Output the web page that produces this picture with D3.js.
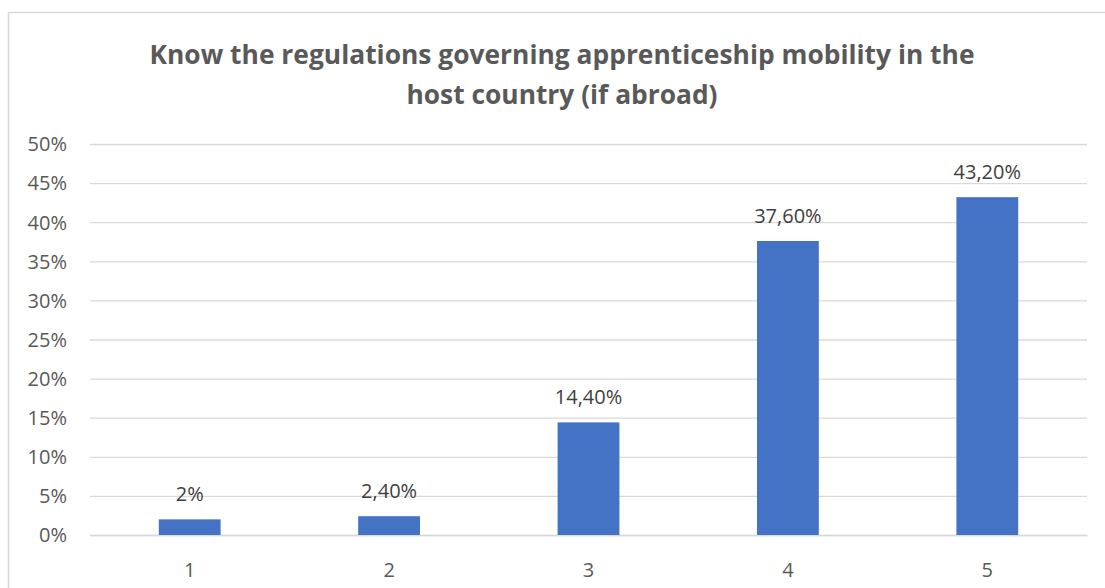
<!DOCTYPE html>
<html>
<head>
<meta charset="utf-8">
<script src="https://cdn.jsdelivr.net/npm/d3@7/dist/d3.min.js"></script>
<style>
  html, body { margin: 0; padding: 0; background: #fff; }
  svg { display: block; }
</style>
</head>
<body>
<svg id="chart" width="1105" height="588"></svg>
<script>
// Survey answers on a 1–5 scale, share of respondents (%)
const categories = ["1", "2", "3", "4", "5"];
const values = [2, 2.4, 14.4, 37.6, 43.2];
const yTicks = [0, 5, 10, 15, 20, 25, 30, 35, 40, 45, 50];
const titleLines = [
  "Know the regulations governing apprenticeship mobility in the",
  "host country (if abroad)"
];

const svg = d3.select("#chart");
const W = 1105, H = 588;
const plot = { left: 90, right: 1087, top: 144, bottom: 535 };
const textColor = "#595959";
const gridColor = "#d9d9d9";
const font = "'Open Sans', 'Noto Sans', sans-serif";
const labelSize = 20;

// outer chart frame
svg.append("rect")
  .attr("x", 8.5).attr("y", 12.5)
  .attr("width", W + 20).attr("height", H + 20)
  .attr("fill", "#fff")
  .attr("stroke", gridColor).attr("stroke-width", 1.5);

// title
const titleWidths = [825, 311];
svg.append("g").selectAll("text").data(titleLines).join("text")
  .attr("x", 562)
  .attr("y", (d, i) => 64 + i * 40)
  .attr("text-anchor", "middle")
  .attr("font-family", font)
  .attr("font-weight", 700)
  .attr("font-size", 27)
  .attr("fill", textColor)
  .attr("textLength", (d, i) => titleWidths[i])
  .attr("lengthAdjust", "spacingAndGlyphs")
  .text(d => d);

const x = d3.scaleBand()
  .domain(categories)
  .range([plot.left, plot.right])
  .paddingInner(0)
  .paddingOuter(0);

const y = d3.scaleLinear()
  .domain([0, 50])
  .range([plot.bottom, plot.top]);

// horizontal gridlines
svg.append("g")
  .attr("transform", `translate(${plot.left},0)`)
  .call(d3.axisLeft(y).tickValues(yTicks).tickSize(-(plot.right - plot.left)).tickFormat(""))
  .call(g => g.select(".domain").remove())
  .call(g => g.selectAll("line").attr("stroke", gridColor).attr("stroke-width", 1.3));

// y tick labels
svg.append("g")
  .attr("transform", `translate(67,0)`)
  .call(d3.axisLeft(y).tickValues(yTicks).tickSize(0).tickPadding(0).tickFormat(d => d + "%"))
  .call(g => g.select(".domain").remove())
  .call(g => g.selectAll("text")
    .attr("font-family", font).attr("font-size", labelSize)
    .attr("fill", textColor).attr("dy", "0.34em"));

// x axis baseline and category labels
svg.append("g")
  .attr("transform", `translate(0,${plot.bottom})`)
  .call(d3.axisBottom(x).tickSize(0).tickPadding(0))
  .call(g => g.select(".domain").attr("stroke", gridColor).attr("stroke-width", 1.5))
  .call(g => g.selectAll("text")
    .attr("font-family", font).attr("font-size", labelSize)
    .attr("fill", textColor).attr("dy", 0).attr("y", 42));

// bars
const barW = x.step() * 0.31;
svg.append("g").selectAll("rect").data(values).join("rect")
  .attr("x", (d, i) => x(categories[i]) + x.bandwidth() / 2 - barW / 2)
  .attr("y", d => y(d))
  .attr("width", barW)
  .attr("height", d => y(0) - y(d))
  .attr("fill", "#4472c4");

// value labels, decimal comma
const fmt = v => Number.isInteger(v) ? v + "%" : v.toFixed(2).replace(".", ",") + "%";
svg.append("g").selectAll("text").data(values).join("text")
  .attr("x", (d, i) => x(categories[i]) + x.bandwidth() / 2)
  .attr("y", d => y(d) - 18)
  .attr("text-anchor", "middle")
  .attr("font-family", font).attr("font-size", labelSize)
  .attr("fill", "#404040")
  .text(d => fmt(d));
</script>
</body>
</html>
